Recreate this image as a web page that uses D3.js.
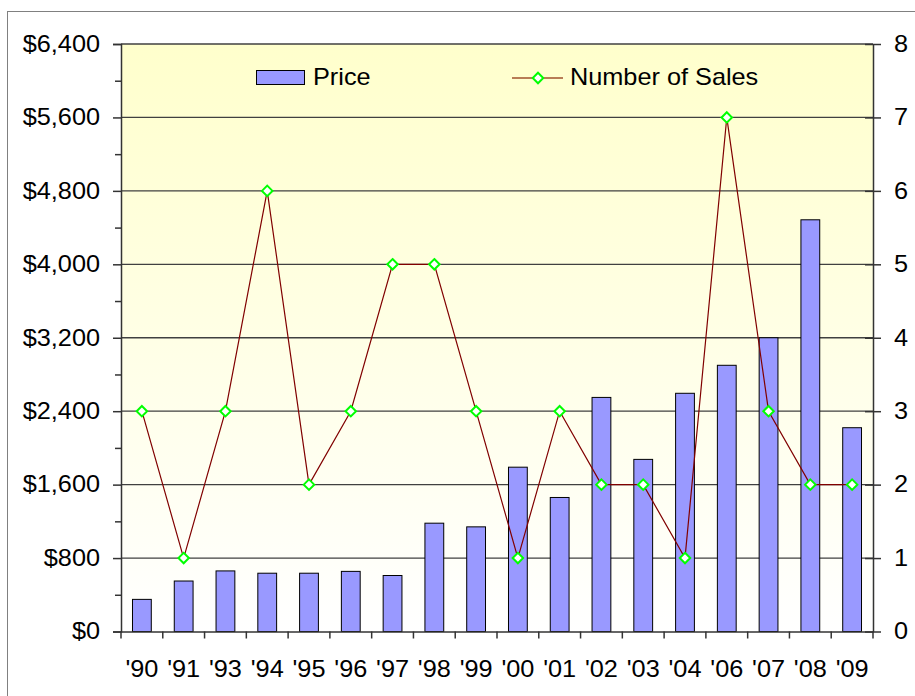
<!DOCTYPE html>
<html>
<head>
    <title>Price and Number of Sales</title>
    <script src='https://d3js.org/d3.v7.min.js' charset='utf-8'></script>
    <style type="text/css">
        body { margin: 0; background: #fff; }
        .chart text {
            font-family: Arial, 'Liberation Sans', sans-serif;
            font-size: 23px;
            fill: #000;
            transform-box: fill-box;
            transform: scaleX(1.1);
        }
        .chart .left-axis text { transform-origin: right center; }
        .chart .right-axis text { transform-origin: left center; }
        .chart .bottom-axis text { transform-origin: center center; }
        .chart .legend text { transform-origin: left center; }
    </style>
</head>
<body>
    <svg class='chart'></svg>

    <script type='text/javascript'>
    var years = ["'90", "'91", "'93", "'94", "'95", "'96", "'97", "'98", "'99", "'00",
                 "'01", "'02", "'03", "'04", "'06", "'07", "'08", "'09"];
    var prices = [350, 550, 660, 635, 635, 655, 610, 1180, 1140, 1790,
                  1460, 2550, 1875, 2595, 2900, 3200, 4485, 2220];
    var sales = [3, 1, 3, 6, 2, 3, 5, 5, 3, 1, 3, 2, 2, 1, 7, 3, 2, 2];
    var priceTicks = [0, 800, 1600, 2400, 3200, 4000, 4800, 5600, 6400];
    var salesTicks = [0, 1, 2, 3, 4, 5, 6, 7, 8];

    var width = 915;
    var height = 696;
    var plotLeft = 121, plotRight = 873, plotTop = 44, plotBottom = 631.5;

    var chart = d3.select('.chart')
        .attr('width', width)
        .attr('height', height);

    // gradient for plot area
    var grad = chart.append('defs').append('linearGradient')
        .attr('id', 'bg')
        .attr('x1', 0).attr('y1', 0).attr('x2', 0).attr('y2', 1);
    grad.append('stop').attr('offset', '0%').attr('stop-color', '#FFFFCC');
    grad.append('stop').attr('offset', '100%').attr('stop-color', '#FFFFFF');

    // outer border
    chart.append('rect')
        .attr('x', 7.5).attr('y', 11.5)
        .attr('width', 920).attr('height', 700)
        .attr('fill', '#fff')
        .attr('stroke', '#808080');

    var x = d3.scaleBand()
        .domain(years)
        .range([plotLeft, plotRight])
        .paddingInner(0.55)
        .paddingOuter(0.275);

    var xCat = d3.scaleBand().domain(years).range([plotLeft, plotRight]);

    var yLeft = d3.scaleLinear().domain([0, 6400]).range([plotBottom, plotTop]);
    var yRight = d3.scaleLinear().domain([0, 8]).range([plotBottom, plotTop]);

    chart.append('rect')
        .attr('x', plotLeft).attr('y', plotTop)
        .attr('width', plotRight - plotLeft).attr('height', plotBottom - plotTop)
        .attr('fill', 'url(#bg)');

    // gridlines
    chart.append('g')
        .selectAll('line')
        .data(priceTicks.slice(1))
        .enter().append('line')
        .attr('x1', plotLeft).attr('x2', plotRight)
        .attr('y1', function (d) { return yLeft(d); })
        .attr('y2', function (d) { return yLeft(d); })
        .attr('stroke', '#404040')
        .attr('stroke-width', 1.3);

    // bars
    chart.append('g')
        .selectAll('rect')
        .data(prices)
        .enter().append('rect')
        .attr('x', function (d, i) { return x(years[i]); })
        .attr('y', function (d) { return yLeft(d); })
        .attr('width', x.bandwidth())
        .attr('height', function (d) { return plotBottom - yLeft(d); })
        .attr('fill', '#9999FF')
        .attr('stroke', '#000')
        .attr('stroke-width', 1);

    // line
    var line = d3.line()
        .x(function (d, i) { return xCat(years[i]) + xCat.bandwidth() / 2; })
        .y(function (d) { return yRight(d); });

    chart.append('path')
        .datum(sales)
        .attr('d', line)
        .attr('fill', 'none')
        .attr('stroke', '#800000')
        .attr('stroke-width', 1.2);

    var diamond = d3.symbol().type(d3.symbolDiamond2).size(70);

    chart.append('g')
        .selectAll('path')
        .data(sales)
        .enter().append('path')
        .attr('d', diamond)
        .attr('transform', function (d, i) {
            return 'translate(' + (xCat(years[i]) + xCat.bandwidth() / 2) + ',' + yRight(d) + ')';
        })
        .attr('fill', '#fff')
        .attr('stroke', '#00FF00')
        .attr('stroke-width', 2);

    // left axis
    var leftAxis = d3.axisLeft(yLeft)
        .tickValues(priceTicks)
        .tickSize(8)
        .tickPadding(13)
        .tickFormat(function (d) { return '$' + d3.format(',')(d); });
    var gl = chart.append('g')
        .attr('class', 'left-axis')
        .attr('transform', 'translate(' + plotLeft + ',0)')
        .call(leftAxis);
    gl.selectAll('.tick line').attr('stroke', '#333').attr('stroke-width', 1.5);

    var leftMinor = d3.axisLeft(yLeft)
        .tickValues(d3.range(400, 6400, 800))
        .tickSize(6)
        .tickFormat('');
    var glm = chart.append('g')
        .attr('transform', 'translate(' + plotLeft + ',0)')
        .call(leftMinor);
    glm.select('.domain').remove();
    glm.selectAll('.tick line').attr('stroke', '#333').attr('stroke-width', 1.5);

    // right axis
    var rightAxis = d3.axisRight(yRight)
        .tickValues(salesTicks)
        .tickSizeInner(8)
        .tickSizeOuter(0)
        .tickPadding(13);
    var gr = chart.append('g')
        .attr('class', 'right-axis')
        .attr('transform', 'translate(' + plotRight + ',0)')
        .call(rightAxis);
    gr.selectAll('.tick line')
        .attr('x1', -8)
        .attr('stroke', '#333').attr('stroke-width', 1.5);

    // bottom axis
    var bottomAxis = d3.axisBottom(xCat)
        .tickSize(0)
        .tickSizeOuter(0)
        .tickPadding(29);
    var gb = chart.append('g')
        .attr('class', 'bottom-axis')
        .attr('transform', 'translate(0,' + plotBottom + ')')
        .call(bottomAxis);

    chart.append('g')
        .selectAll('line')
        .data(years.concat(['end']))
        .enter().append('line')
        .attr('x1', function (d, i) { return plotLeft + i * xCat.step(); })
        .attr('x2', function (d, i) { return plotLeft + i * xCat.step(); })
        .attr('y1', plotBottom)
        .attr('y2', plotBottom + 7)
        .attr('stroke', '#333')
        .attr('stroke-width', 1.5);

    chart.selectAll('.domain').attr('stroke', '#333').attr('stroke-width', 1.5);
    chart.selectAll('.tick text')
        .style('font-size', '23px')
        .style('font-family', 'Arial, Liberation Sans, sans-serif');

    // legend
    var legend = chart.append('g').attr('class', 'legend');
    legend.append('rect')
        .attr('x', 256.5).attr('y', 70.5)
        .attr('width', 48).attr('height', 14)
        .attr('fill', '#9999FF')
        .attr('stroke', '#000');
    legend.append('text')
        .attr('x', 313).attr('y', 85)
        .text('Price');

    legend.append('line')
        .attr('x1', 512).attr('x2', 563)
        .attr('y1', 78).attr('y2', 78)
        .attr('stroke', '#A0522D')
        .attr('stroke-width', 1.3);
    legend.append('path')
        .attr('d', diamond)
        .attr('transform', 'translate(538,78)')
        .attr('fill', '#fff')
        .attr('stroke', '#00FF00')
        .attr('stroke-width', 2);
    legend.append('text')
        .attr('x', 570).attr('y', 85)
        .text('Number of Sales');
    </script>
</body>
</html>
